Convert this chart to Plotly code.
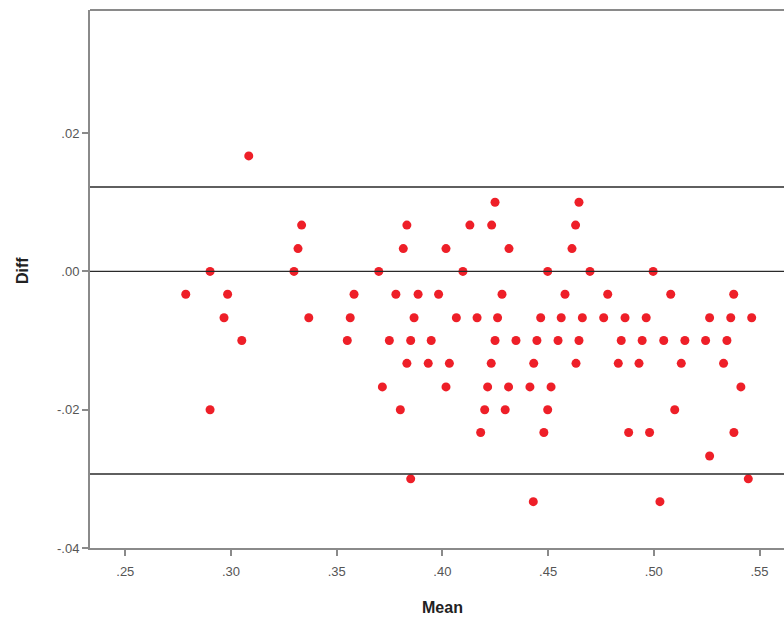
import plotly.graph_objects as go

# Bland-Altman style scatter: mean of two measurements vs. their difference
mean_vals = [
    0.2786, 0.2901, 0.2901, 0.2967, 0.2984, 0.3051, 0.3084, 0.3298, 0.3317, 0.3334,
    0.3368, 0.3550, 0.3564, 0.3582, 0.3699, 0.3716, 0.3749, 0.3780, 0.3801, 0.3815,
    0.3832, 0.3832, 0.3850, 0.3850, 0.3866, 0.3885, 0.3933, 0.3947, 0.3982, 0.4017,
    0.4017, 0.4033, 0.4066, 0.4097, 0.4130, 0.4164, 0.4181, 0.4200, 0.4214, 0.4231,
    0.4233, 0.4249, 0.4249, 0.4261, 0.4282, 0.4297, 0.4313, 0.4315, 0.4348, 0.4414,
    0.4430, 0.4432, 0.4447, 0.4465, 0.4480, 0.4498, 0.4498, 0.4514, 0.4547, 0.4562,
    0.4580, 0.4613, 0.4630, 0.4632, 0.4646, 0.4646, 0.4662, 0.4698, 0.4763, 0.4782,
    0.4832, 0.4846, 0.4864, 0.4881, 0.4930, 0.4945, 0.4964, 0.4980, 0.4997, 0.5029,
    0.5047, 0.5080, 0.5099, 0.5130, 0.5147, 0.5245, 0.5264, 0.5264, 0.5330, 0.5346,
    0.5364, 0.5378, 0.5379, 0.5412, 0.5447, 0.5463,
]
diff_vals = [
    -0.0033, 0.0000, -0.0200, -0.0067, -0.0033, -0.0100, 0.0167, 0.0000, 0.0033, 0.0067,
    -0.0067, -0.0100, -0.0067, -0.0033, 0.0000, -0.0167, -0.0100, -0.0033, -0.0200, 0.0033,
    0.0067, -0.0133, -0.0100, -0.0300, -0.0067, -0.0033, -0.0133, -0.0100, -0.0033, 0.0033,
    -0.0167, -0.0133, -0.0067, 0.0000, 0.0067, -0.0067, -0.0233, -0.0200, -0.0167, -0.0133,
    0.0067, 0.0100, -0.0100, -0.0067, -0.0033, -0.0200, -0.0167, 0.0033, -0.0100, -0.0167,
    -0.0333, -0.0133, -0.0100, -0.0067, -0.0233, 0.0000, -0.0200, -0.0167, -0.0100, -0.0067,
    -0.0033, 0.0033, 0.0067, -0.0133, 0.0100, -0.0100, -0.0067, 0.0000, -0.0067, -0.0033,
    -0.0133, -0.0100, -0.0067, -0.0233, -0.0133, -0.0100, -0.0067, -0.0233, 0.0000, -0.0333,
    -0.0100, -0.0033, -0.0200, -0.0133, -0.0100, -0.0100, -0.0067, -0.0267, -0.0133, -0.0100,
    -0.0067, -0.0033, -0.0233, -0.0167, -0.0300, -0.0067,
]

# Horizontal reference lines: zero, upper and lower limits of agreement
ref_lines = [0.0, 0.0122, -0.0293]

x_tick_vals = [0.25, 0.30, 0.35, 0.40, 0.45, 0.50, 0.55]
x_tick_text = [".25", ".30", ".35", ".40", ".45", ".50", ".55"]
y_tick_vals = [0.02, 0.00, -0.02, -0.04]
y_tick_text = [".02", ".00", "-.02", "-.04"]

W, H = 784, 619
ML, MT, MB, MR = 90, 10, 71, 0

# axis scale: 0.05 per 105.7 px horizontally; y spans -.04 at the frame bottom
kx = 0.05 / 105.7
x_lo = 0.25 - (125.3 - ML) * kx
x_hi = 0.25 + (W - 125.3) * kx
ky = 0.02 / 138.3
y_lo = -0.04
y_hi = y_lo + (H - MT - MB) * ky

AXIS_GREY = "#8a8a8a"
FONT = "Liberation Sans, Arial, sans-serif"

fig = go.Figure()
fig.add_trace(go.Scatter(
    x=mean_vals, y=diff_vals, mode="markers",
    marker=dict(color="#ee1f28", size=9, line=dict(width=0)),
    hoverinfo="x+y", showlegend=False,
))

for v in ref_lines:
    fig.add_shape(type="line", xref="paper", yref="y", x0=0, x1=1, y0=v, y1=v,
                  line=dict(color="#2a2a2a", width=1.4), layer="above")

# top border of the plot frame
fig.add_shape(type="line", xref="paper", yref="paper", x0=0, x1=1, y0=1, y1=1,
              line=dict(color=AXIS_GREY, width=2), layer="above")

fig.update_xaxes(
    range=[x_lo, x_hi], tickvals=x_tick_vals, ticktext=x_tick_text,
    showgrid=False, zeroline=False, showline=True, linecolor=AXIS_GREY, linewidth=2,
    ticks="outside", ticklen=6, tickwidth=1.5, tickcolor=AXIS_GREY,
    ticklabelstandoff=4,
    tickfont=dict(family=FONT, size=13, color="#555555"),
)
fig.update_yaxes(
    range=[y_lo, y_hi], tickvals=y_tick_vals, ticktext=y_tick_text,
    showgrid=False, zeroline=False, showline=True, linecolor=AXIS_GREY, linewidth=2,
    ticks="outside", ticklen=6, tickwidth=1.5, tickcolor=AXIS_GREY,
    tickfont=dict(family=FONT, size=13, color="#555555"),
)

fig.add_annotation(text="<b>Mean</b>", xref="paper", yref="paper",
                   x=(442 - ML) / (W - ML - MR), y=-(607 - (H - MB)) / (H - MT - MB),
                   showarrow=False, font=dict(family=FONT, size=16, color="#222222"),
                   xanchor="center", yanchor="middle")
fig.add_annotation(text="<b>Diff</b>", xref="paper", yref="paper",
                   x=-(ML - 22) / (W - ML - MR), y=(H - MB - 271) / (H - MT - MB),
                   showarrow=False, textangle=-90,
                   font=dict(family=FONT, size=16, color="#222222"),
                   xanchor="center", yanchor="middle")

fig.update_layout(
    width=W, height=H,
    margin=dict(l=ML, r=MR, t=MT, b=MB, pad=0),
    paper_bgcolor="white", plot_bgcolor="white",
    font=dict(family=FONT),
)

fig.write_html("out.html")
